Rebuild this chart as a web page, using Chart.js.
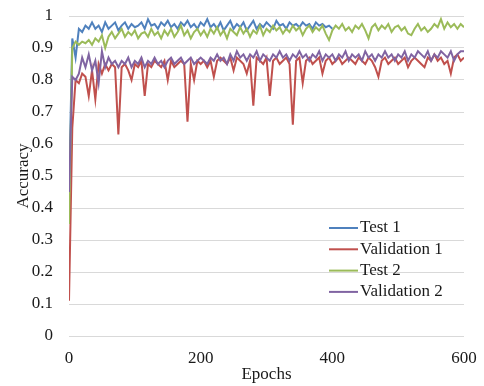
<!DOCTYPE html>
<html>
<head>
<meta charset="utf-8">
<script src="https://cdn.jsdelivr.net/npm/chart.js@4/dist/chart.umd.min.js"></script>
<style>
  body { margin: 0; background: #fff; }
  #wrap { width: 484px; height: 386px; }
</style>
</head>
<body>
<div id="wrap"><canvas id="accChart" width="484" height="386"></canvas></div>
<script>
// ===== Data (one point every 5 epochs) =====
const epochs = [];
for (let e = 0; e <= 600; e += 5) epochs.push(e);

const seriesNames = ["Test 1", "Validation 1", "Test 2", "Validation 2"];
const seriesColors = ["#4F81BD", "#C0504D", "#9BBB59", "#8064A2"];

// Test 1 stops at epoch 400
const test1 = [
  0.45, 0.93, 0.87, 0.96, 0.95, 0.97, 0.96, 0.98, 0.96, 0.97,
  0.95, 0.98, 0.96, 0.97, 0.98, 0.955, 0.97, 0.98, 0.96, 0.975,
  0.965, 0.97, 0.98, 0.96, 0.99, 0.97, 0.975, 0.96, 0.98, 0.97,
  0.985, 0.965, 0.975, 0.96, 0.98, 0.97, 0.985, 0.965, 0.975, 0.96,
  0.98, 0.97, 0.99, 0.965, 0.975, 0.96, 0.98, 0.955, 0.97, 0.985,
  0.96, 0.975, 0.965, 0.98, 0.955, 0.97, 0.985, 0.96, 0.975, 0.965,
  0.98, 0.97, 0.96, 0.985, 0.97, 0.975, 0.96, 0.98, 0.97, 0.975,
  0.965, 0.98, 0.97, 0.975, 0.96, 0.98, 0.97, 0.975, 0.965, 0.97,
  0.96
];

const validation1 = [
  0.11, 0.65, 0.80, 0.79, 0.82, 0.81, 0.75, 0.83, 0.74, 0.85,
  0.82, 0.85, 0.83, 0.85, 0.84, 0.63, 0.84, 0.85, 0.83, 0.80,
  0.85, 0.84, 0.86, 0.75, 0.85, 0.84, 0.86, 0.85, 0.84, 0.86,
  0.80, 0.86, 0.84, 0.85, 0.86, 0.85, 0.67, 0.85, 0.80, 0.86,
  0.85, 0.86, 0.84, 0.86, 0.81, 0.86, 0.87, 0.86, 0.85, 0.87,
  0.83, 0.87, 0.86, 0.85, 0.82, 0.86, 0.72, 0.87, 0.86, 0.85,
  0.87, 0.75, 0.86, 0.87, 0.85, 0.86, 0.87, 0.85, 0.66, 0.86,
  0.87, 0.79, 0.86, 0.87, 0.85, 0.86, 0.87, 0.82, 0.86, 0.87,
  0.85, 0.86, 0.87, 0.85, 0.86, 0.87, 0.86, 0.85, 0.87, 0.86,
  0.85, 0.87, 0.86, 0.84, 0.81, 0.86, 0.87, 0.85, 0.86, 0.87,
  0.85, 0.86, 0.87, 0.84, 0.86, 0.87, 0.86, 0.85, 0.84, 0.87,
  0.86, 0.88, 0.86, 0.87, 0.85, 0.86, 0.82, 0.87, 0.88, 0.86,
  0.87
];

const test2 = [
  0.35, 0.90, 0.92, 0.91, 0.92, 0.915, 0.925, 0.91, 0.93, 0.92,
  0.94, 0.90, 0.935, 0.95, 0.93, 0.945, 0.96, 0.935, 0.95, 0.94,
  0.955, 0.93, 0.945, 0.95, 0.935, 0.96, 0.94, 0.95, 0.93, 0.955,
  0.94, 0.96, 0.935, 0.95, 0.97, 0.94, 0.955, 0.93, 0.95, 0.96,
  0.94, 0.955, 0.935, 0.96, 0.945, 0.965, 0.94, 0.955, 0.93, 0.96,
  0.95, 0.94, 0.965, 0.945, 0.96, 0.935, 0.955, 0.945, 0.97, 0.94,
  0.96, 0.95, 0.97, 0.955, 0.965, 0.945, 0.96, 0.95, 0.97, 0.955,
  0.965, 0.94, 0.96, 0.97, 0.95, 0.965, 0.955, 0.97, 0.945, 0.925,
  0.955, 0.97, 0.96, 0.975, 0.955, 0.965, 0.95, 0.97, 0.96, 0.975,
  0.955, 0.93, 0.965, 0.975, 0.955, 0.97, 0.96, 0.975, 0.95, 0.965,
  0.97, 0.955, 0.965, 0.945, 0.94, 0.96, 0.975, 0.955, 0.965, 0.95,
  0.96, 0.975, 0.965, 0.99, 0.96, 0.98, 0.965, 0.975, 0.96, 0.975,
  0.965
];

const validation2 = [
  0.45, 0.81, 0.80, 0.82, 0.87, 0.84, 0.88, 0.83, 0.86, 0.79,
  0.89, 0.84, 0.87, 0.85, 0.86, 0.84, 0.86, 0.85, 0.87, 0.84,
  0.86, 0.85, 0.87, 0.84, 0.86, 0.85, 0.87, 0.85, 0.86, 0.84,
  0.86, 0.87, 0.85, 0.86, 0.87, 0.85, 0.86, 0.87, 0.85, 0.86,
  0.87, 0.86, 0.85, 0.87, 0.86, 0.88, 0.86, 0.87, 0.85, 0.88,
  0.86, 0.89, 0.87, 0.88, 0.86, 0.88, 0.87, 0.89, 0.86, 0.88,
  0.87, 0.86, 0.88, 0.87, 0.89, 0.87, 0.88, 0.86, 0.88, 0.87,
  0.89, 0.87, 0.88, 0.86, 0.88, 0.87, 0.89, 0.86, 0.88, 0.87,
  0.88, 0.86, 0.88, 0.87, 0.89, 0.86, 0.88, 0.87, 0.88, 0.86,
  0.89, 0.87, 0.88, 0.86, 0.88, 0.87, 0.89, 0.87, 0.88, 0.86,
  0.88, 0.87, 0.89, 0.86, 0.88, 0.87, 0.89, 0.88, 0.87, 0.89,
  0.86, 0.88, 0.87, 0.89, 0.88, 0.87, 0.89, 0.86, 0.88, 0.89,
  0.89
];

const seriesValues = [test1, validation1, test2, validation2];

const xTickValues = [0, 200, 400, 600];
const yTickStep = 0.1;

// ===== Build datasets =====
function toPoints(values) {
  return values.map((v, i) => ({ x: epochs[i], y: v }));
}

const datasets = seriesValues.map((vals, i) => ({
  label: seriesNames[i],
  data: toPoints(vals),
  borderColor: seriesColors[i],
  backgroundColor: seriesColors[i],
  borderWidth: 2,
  pointRadius: 0,
  tension: 0,
  fill: false,
  // later series on top, like the original
  order: seriesValues.length - i
}));

const serif = "'Liberation Serif', 'Times New Roman', serif";
const textColor = "#1a1a1a";

// ===== Legend drawn inside the plot =====
const innerLegend = {
  id: "innerLegend",
  afterDraw(chart) {
    const ctx = chart.ctx;
    ctx.save();
    ctx.font = "17px " + serif;
    ctx.textBaseline = "middle";
    ctx.textAlign = "left";
    seriesNames.forEach((name, i) => {
      const y = 228 + i * 21.3;
      ctx.strokeStyle = seriesColors[i];
      ctx.lineWidth = 2;
      ctx.beginPath();
      ctx.moveTo(329, y);
      ctx.lineTo(358, y);
      ctx.stroke();
      ctx.fillStyle = textColor;
      ctx.fillText(name, 360, y);
    });
    ctx.restore();
  }
};

new Chart(document.getElementById("accChart"), {
  type: "line",
  data: { datasets },
  plugins: [innerLegend],
  options: {
    responsive: false,
    animation: false,
    devicePixelRatio: 1,
    layout: { padding: { top: 16, right: 20, bottom: 0, left: 0 } },
    plugins: {
      legend: { display: false },
      tooltip: { enabled: false }
    },
    scales: {
      x: {
        type: "linear",
        min: 0,
        max: 600,
        afterBuildTicks(scale) {
          scale.ticks = xTickValues.map(v => ({ value: v }));
        },
        afterFit(scale) {
          scale.height = 50;
          scale.paddingLeft = 0;
          scale.paddingRight = 0;
        },
        grid: { display: false, drawTicks: false },
        border: { display: false },
        ticks: { color: textColor, padding: 12, font: { family: serif, size: 17 } },
        title: {
          display: true,
          text: "Epochs",
          color: textColor,
          font: { family: serif, size: 17 },
          padding: { top: 0, bottom: 1 }
        }
      },
      y: {
        min: 0,
        max: 1,
        ticks: {
          stepSize: yTickStep,
          color: textColor,
          padding: 16,
          font: { family: serif, size: 17 },
          callback: v => Math.round(v * 10) / 10
        },
        afterFit(scale) {
          scale.width = 69;
          scale.paddingTop = 0;
          scale.paddingBottom = 0;
        },
        grid: { color: "#D9D9D9", lineWidth: 1, drawTicks: false },
        border: { display: false },
        title: {
          display: true,
          text: "Accuracy",
          color: textColor,
          font: { family: serif, size: 17 },
          padding: { top: 13, bottom: 0 }
        }
      }
    }
  }
});
</script>
</body>
</html>
